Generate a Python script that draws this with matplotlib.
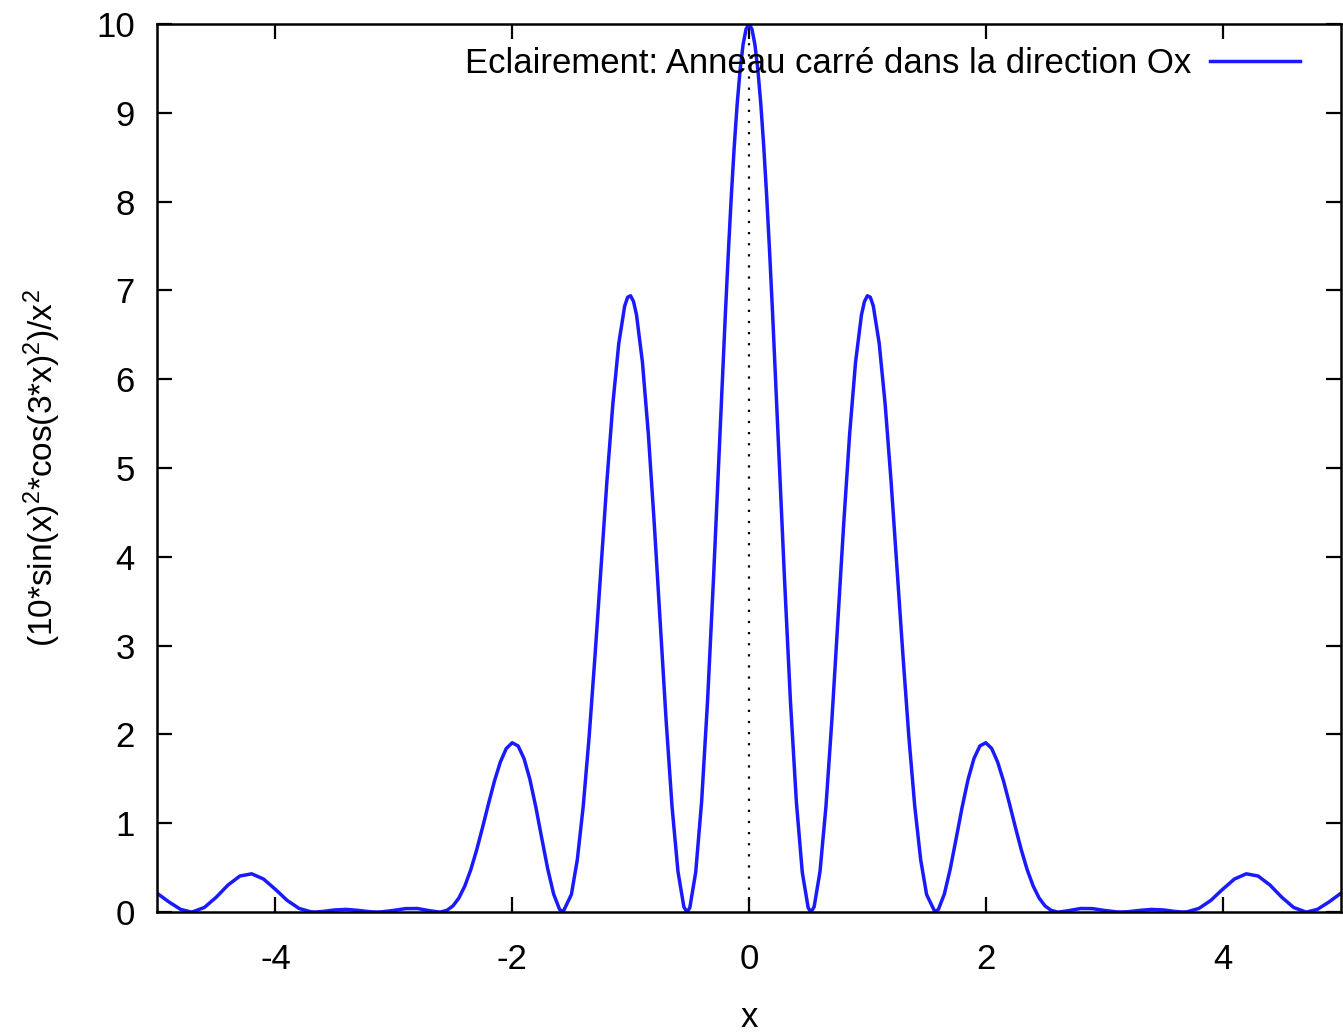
import matplotlib
matplotlib.use("Agg")
import matplotlib.pyplot as plt

plt.rcParams['font.family'] = ['Liberation Sans', 'DejaVu Sans']
plt.rcParams['mathtext.fontset'] = 'custom'
plt.rcParams['mathtext.rm'] = 'Liberation Sans'
plt.rcParams['mathtext.it'] = 'Liberation Sans'
plt.rcParams['axes.unicode_minus'] = False

# Values for x >= 0 (the curve is symmetric about x = 0)
x_pos = [0.0, 0.025, 0.05, 0.075, 0.1, 0.125, 0.15, 0.175, 0.2, 0.25, 0.3, 0.35, 0.4, 0.45,
         0.5, 0.5236, 0.55, 0.6, 0.65, 0.7, 0.75, 0.8, 0.85, 0.9, 0.95, 0.975, 1.0, 1.025,
         1.05, 1.1, 1.15, 1.2, 1.25, 1.3, 1.35, 1.4, 1.45, 1.5, 1.5708, 1.6, 1.65, 1.7,
         1.75, 1.8, 1.85, 1.9, 1.95, 2.0, 2.05, 2.1, 2.15, 2.2, 2.25, 2.3, 2.35, 2.4, 2.45,
         2.5, 2.55, 2.6, 2.618, 2.7, 2.8, 2.9, 3.0, 3.1, 3.1416, 3.2, 3.3, 3.4, 3.5, 3.6,
         3.6652, 3.7, 3.8, 3.9, 4.0, 4.1, 4.2, 4.3, 4.4, 4.5, 4.6, 4.7, 4.7124, 4.8, 4.9, 5.0]
y_pos = [10.0, 9.942, 9.769, 9.484, 9.096, 8.613, 8.047, 7.412, 6.721, 5.243, 3.749, 2.376, 1.244, 0.448,
         0.046, 0.0, 0.057, 0.457, 1.188, 2.159, 3.259, 4.372, 5.382, 6.192, 6.725, 6.874, 6.940, 6.923,
         6.824, 6.401, 5.719, 4.851, 3.881, 2.895, 1.977, 1.191, 0.589, 0.197, 0.0, 0.030, 0.202, 0.486,
         0.829, 1.179, 1.491, 1.728, 1.870, 1.906, 1.841, 1.689, 1.474, 1.219, 0.954, 0.699, 0.475, 0.293, 0.158,
         0.069, 0.020, 0.001, 0.0, 0.015, 0.039, 0.038, 0.018, 0.002, 0.0, 0.003, 0.018, 0.029, 0.023, 0.006,
         0.0, 0.002, 0.040, 0.130, 0.255, 0.371, 0.430, 0.405, 0.304, 0.166, 0.051, 0.001, 0.0, 0.029, 0.114, 0.212]

x_vals = [-v for v in x_pos[:0:-1]] + x_pos
y_vals = y_pos[:0:-1] + y_pos

x_ticks = [-4, -2, 0, 2, 4]
y_ticks = [0, 1, 2, 3, 4, 5, 6, 7, 8, 9, 10]
legend_label = "Eclairement: Anneau carré dans la direction Ox"
x_label = "x"
y_label = r"(10*sin(x)$^2$*cos(3*x)$^2$)/x$^2$"

fig = plt.figure(figsize=(13.43, 10.36), dpi=100)
ax = fig.add_axes([0.1169, 0.1197, 0.8816, 0.8571])

ax.axvline(0, color='black', linestyle=(0, (1, 4)), linewidth=1.6, zorder=1)
ax.plot(x_vals, y_vals, color='#1a1aff', linewidth=2.5, label=legend_label, zorder=2,
        solid_joinstyle='round')

ax.set_xlim(-5, 5)
ax.set_ylim(0, 10)
ax.set_xticks(x_ticks)
ax.set_yticks(y_ticks)
ax.tick_params(direction='in', length=11, width=1.6, top=True, right=True,
               labelsize=25, pad=16)
ax.tick_params(axis='x', pad=22)
for s in ax.spines.values():
    s.set_linewidth(1.8)

ax.set_xlabel(x_label, fontsize=25, labelpad=18)
ax.set_ylabel(y_label, fontsize=24, labelpad=24)

leg = ax.legend(loc='upper right', bbox_to_anchor=(0.992, 1.009), frameon=False,
                markerfirst=False, fontsize=25, handlelength=2.6, handletextpad=0.55)

fig.savefig("out.png", dpi=100)
